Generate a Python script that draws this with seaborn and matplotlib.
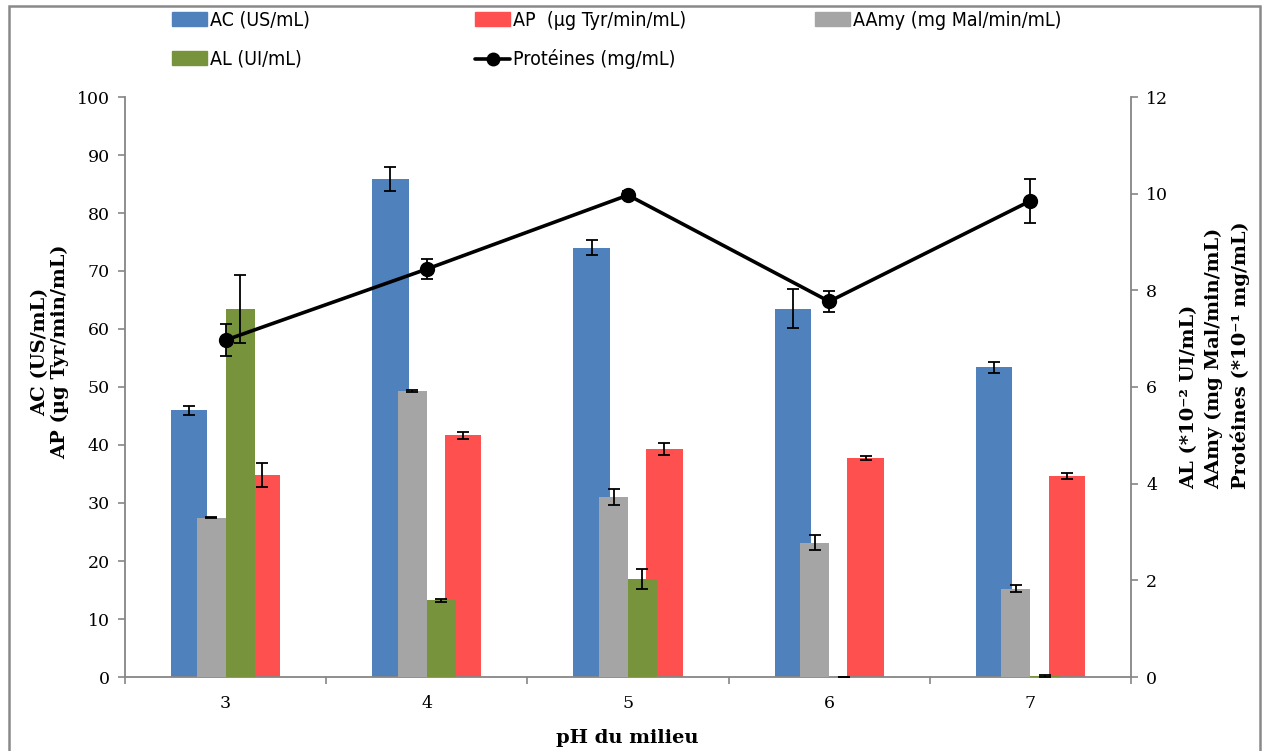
import numpy as np
import pandas as pd
import seaborn as sns
import matplotlib.pyplot as plt
from matplotlib.lines import Line2D
from matplotlib.patches import Patch, Rectangle

# data
ph = ["3", "4", "5", "6", "7"]
ac = [46.0, 85.9, 74.0, 63.5, 53.4]          # left axis
ac_err = [0.8, 2.1, 1.3, 3.4, 0.9]
ap = [34.8, 41.7, 39.3, 37.8, 34.7]          # left axis
ap_err = [2.1, 0.6, 1.1, 0.35, 0.55]
aamy = [3.30, 5.91, 3.72, 2.78, 1.83]        # right axis
aamy_err = [0.02, 0.02, 0.17, 0.15, 0.07]
al = [7.61, 1.59, 2.03, 0.0, 0.03]           # right axis
al_err = [0.70, 0.03, 0.20, 0.01, 0.02]
prot = [6.97, 8.44, 9.97, 7.77, 9.85]        # right axis
prot_err = [0.33, 0.21, 0.08, 0.21, 0.46]

colors = {"AC": "#4F81BD", "AP": "#FF5050", "AAmy": "#A5A5A5", "AL": "#77933C"}
grey = "#868686"

sns.set_theme(style="white")
plt.rcParams["font.family"] = ["DejaVu Serif"]
plt.rcParams["text.color"] = "black"

W, H = 1262, 751
fig = plt.figure(figsize=(W / 100, H / 100), dpi=100)
ax = fig.add_axes([125 / W, 1 - 677 / H, (1131 - 125) / W, (677 - 97) / H])

df_left = pd.DataFrame({
    "pH": ph * 2,
    "enzyme": ["AC"] * 5 + ["AP"] * 5,
    "value": ac + ap,
})
df_right = pd.DataFrame({
    "pH": ph * 2,
    "enzyme": ["AAmy"] * 5 + ["AL"] * 5,
    "value": aamy + al,
})

sns.barplot(data=df_left, x="pH", y="value", hue="enzyme", hue_order=["AC", "AP"],
            palette=[colors["AC"], colors["AP"]], width=0.724, gap=0.5,
            saturation=1, errorbar=None, linewidth=0, legend=False, ax=ax)

ax2 = ax.twinx()
sns.barplot(data=df_right, x="pH", y="value", hue="enzyme", hue_order=["AAmy", "AL"],
            palette=[colors["AAmy"], colors["AL"]], width=0.288, gap=0,
            saturation=1, errorbar=None, linewidth=0, legend=False, ax=ax2)

err_kw = dict(fmt="none", ecolor="black", elinewidth=1.3, capsize=4, capthick=1.3, zorder=6)
for axis, errs in [(ax, [ac_err, ap_err]), (ax2, [aamy_err, al_err])]:
    for cont, e in zip(axis.containers, errs):
        for bar, err in zip(cont, e):
            axis.errorbar(bar.get_x() + bar.get_width() / 2, bar.get_height(), yerr=err, **err_kw)

ax2.errorbar(np.arange(len(ph)), prot, yerr=prot_err, color="black", lw=2.6,
             marker="o", ms=10, elinewidth=1.3, capsize=4, capthick=1.3, zorder=7)

# axes styling
ax.set_xlim(-0.5, 4.5)
ax.set_ylim(0, 100)
ax.set_yticks(range(0, 101, 10))
ax2.set_ylim(0, 12)
ax2.set_yticks(range(0, 13, 2))
ax.set_xlabel("")
ax.set_ylabel("")
ax2.set_ylabel("")

for s in ["top", "right"]:
    ax.spines[s].set_visible(False)
for s in ["top", "left", "bottom"]:
    ax2.spines[s].set_visible(False)
for sp in [ax.spines["left"], ax.spines["bottom"], ax2.spines["right"]]:
    sp.set_color(grey)
    sp.set_linewidth(1.3)

ax.tick_params(axis="y", direction="out", length=5, width=1.2, color=grey,
               labelcolor="black", labelsize=12.5, pad=6, left=True)
ax2.tick_params(axis="y", direction="out", length=5, width=1.2, color=grey,
                labelcolor="black", labelsize=12.5, pad=6, right=True)
ax.set_xticks(range(len(ph)))
ax.set_xticklabels(ph)
ax.set_xticks(np.arange(-0.5, 5, 1), minor=True)
ax.tick_params(axis="x", which="major", length=0, labelsize=12.5, labelcolor="black", pad=13)
ax.tick_params(axis="x", which="minor", direction="out", length=5, width=1.2,
               color=grey, bottom=True)

lab = dict(fontsize=14, fontweight="bold", family="DejaVu Serif", rotation=90,
           ha="center", va="center", color="black")
fig.text(50 / W, 1 - 352 / H, "AC (US/mL)\nAP (µg Tyr/min/mL)", linespacing=1.15, **lab)
fig.text(1215 / W, 1 - 355 / H,
         "AL (*10⁻² UI/mL)\nAAmy (mg Mal/min/mL)\nProtéines (*10⁻¹ mg/mL)",
         multialignment="left", linespacing=1.45, **lab)
fig.text(627 / W, 1 - 738 / H, "pH du milieu", fontsize=14, fontweight="bold",
         family="DejaVu Serif", ha="center", va="center", color="black")

# legend in three blocks
leg_font = {"family": ["Liberation Sans Narrow", "DejaVu Sans Condensed", "DejaVu Sans"],
            "size": 14, "stretch": "condensed"}
leg_kw = dict(loc="upper left", frameon=False, borderaxespad=0, borderpad=0,
              handlelength=1.8, handleheight=0.72, handletextpad=0.15,
              labelspacing=1.0, prop=leg_font, labelcolor="black")
prot_handle = Line2D([], [], color="black", lw=2.6, marker="o", ms=9)
fig.legend([Patch(color=colors["AC"]), Patch(color=colors["AL"])],
           ["AC (US/mL)", "AL (UI/mL)"], bbox_to_anchor=(172 / W, 1 - 11 / H), **leg_kw)
fig.legend([Patch(color=colors["AP"]), prot_handle],
           ["AP  (µg Tyr/min/mL)", "Protéines (mg/mL)"],
           bbox_to_anchor=(475 / W, 1 - 11 / H), **leg_kw)
fig.legend([Patch(color=colors["AAmy"])], ["AAmy (mg Mal/min/mL)"],
           bbox_to_anchor=(815 / W, 1 - 11 / H), **leg_kw)

fig.patches.append(Rectangle((9 / W, -0.05), (1260 - 9) / W, (H - 6) / H + 0.05,
                             transform=fig.transFigure, fill=False,
                             edgecolor="#898989", lw=1.8))

fig.savefig("out.png", dpi=100)
